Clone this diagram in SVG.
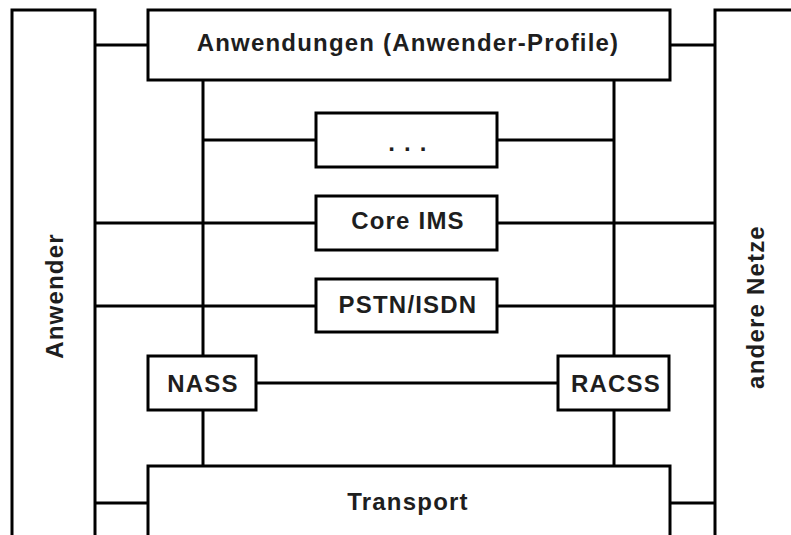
<svg xmlns="http://www.w3.org/2000/svg" width="791" height="535" viewBox="0 0 791 535">
<style>
.box{fill:#fff;stroke:#000;stroke-width:3}
.ln{stroke:#000;stroke-width:3;fill:none}
.t{font-family:"Liberation Sans",Arial,sans-serif;font-weight:bold;font-size:24px;letter-spacing:1.2px;fill:#1e1e1e;text-anchor:middle}
</style>
<rect width="791" height="535" fill="#fff"/>
<g id="connectors">
<line class="ln" x1="95" y1="45" x2="148" y2="45"/>
<line class="ln" x1="670" y1="45" x2="715" y2="45"/>
<line class="ln" x1="203" y1="80" x2="203" y2="356"/>
<line class="ln" x1="203" y1="410" x2="203" y2="466"/>
<line class="ln" x1="614" y1="80" x2="614" y2="356"/>
<line class="ln" x1="614" y1="410" x2="614" y2="466"/>
<line class="ln" x1="203" y1="140" x2="316" y2="140"/>
<line class="ln" x1="497" y1="140" x2="614" y2="140"/>
<line class="ln" x1="95" y1="223" x2="316" y2="223"/>
<line class="ln" x1="497" y1="223" x2="715" y2="223"/>
<line class="ln" x1="95" y1="306" x2="316" y2="306"/>
<line class="ln" x1="497" y1="306" x2="715" y2="306"/>
<line class="ln" x1="256" y1="383" x2="558" y2="383"/>
<line class="ln" x1="95" y1="503" x2="148" y2="503"/>
<line class="ln" x1="670" y1="503" x2="715" y2="503"/>
</g>
<g id="anwender">
<rect class="box" x="12" y="10" width="83" height="600"/>
<text class="t" transform="translate(63,296) rotate(-90)">Anwender</text>
</g>
<g id="andere-netze">
<rect class="box" x="715" y="10" width="120" height="600"/>
<text class="t" transform="translate(764,307) rotate(-90)">andere Netze</text>
</g>
<g id="anwendungen">
<rect class="box" x="148" y="10" width="522" height="70"/>
<text class="t" x="408" y="51">Anwendungen (Anwender-Profile)</text>
</g>
<g id="dots">
<rect class="box" x="316" y="113" width="181" height="54"/>
<text class="t" x="408" y="151">. . .</text>
</g>
<g id="core-ims">
<rect class="box" x="316" y="196" width="181" height="54"/>
<text class="t" x="408" y="229">Core IMS</text>
</g>
<g id="pstn-isdn">
<rect class="box" x="316" y="279" width="181" height="53"/>
<text class="t" x="408" y="313">PSTN/ISDN</text>
</g>
<g id="nass">
<rect class="box" x="148" y="356" width="108" height="54"/>
<text class="t" x="203" y="392">NASS</text>
</g>
<g id="racss">
<rect class="box" x="558" y="356" width="111" height="54"/>
<text class="t" x="616" y="392">RACSS</text>
</g>
<g id="transport">
<rect class="box" x="148" y="466" width="522" height="100"/>
<text class="t" x="408" y="510">Transport</text>
</g>
</svg>
